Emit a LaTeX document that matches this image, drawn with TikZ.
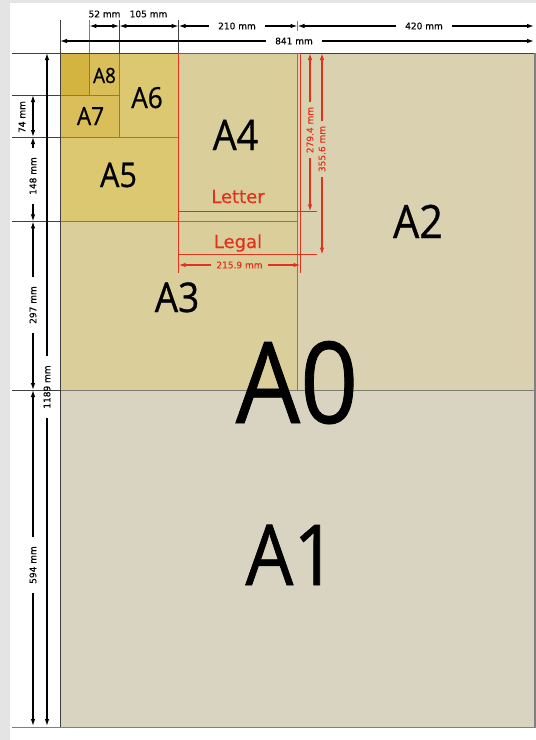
\documentclass[tikz,border=0pt]{standalone}
\usepackage{fontspec}
\setmainfont{DejaVu Sans}
\newfontfamily\bigfont{Open Sans}[FakeStretch=0.9, FakeBold=0.7]
\newfontfamily\dimfont{DejaVu Sans}[FakeBold=0.4]
\usetikzlibrary{arrows.meta}
\definecolor{cBorder}{HTML}{E4E4E4}
\definecolor{cA1}{HTML}{D8D4C1}
\definecolor{cA2}{HTML}{D9D1B0}
\definecolor{cA3}{HTML}{DACE9A}
\definecolor{cA5}{HTML}{DCC870}
\definecolor{cA7}{HTML}{DABE5A}
\definecolor{cA9}{HTML}{D4B440}
\definecolor{cLine}{HTML}{7D7B70}
\definecolor{cRed}{HTML}{E2321E}
\tikzset{
  tip/.tip={Latex[length=7pt,width=4.5pt]},
  sheetline/.style={draw=cLine, line width=0.9pt},
  extline/.style={draw=black!75, line width=0.8pt},
  dimboth/.style={line width=1.2pt, tip-tip},
  dimhalf/.style={line width=1.2pt, -tip},
  redhalf/.style={draw=cRed, line width=1.3pt, -tip},
  redline/.style={draw=cRed, line width=1pt},
  dimlab/.style={font=\dimfont\fontsize{9}{10}\selectfont, inner sep=0pt},
  gaplab/.style={dimlab, inner xsep=9pt, inner ysep=0pt},
  redlab/.style={font=\dimfont\fontsize{9}{10}\selectfont, text=cRed, inner xsep=5pt, inner ysep=0pt},
  sizelab/.style={anchor=base, inner sep=0pt},
}
\begin{document}
\begin{tikzpicture}[x=1pt,y=-1pt]
\useasboundingbox (0,0) rectangle (536,740);
\fill[white] (0,0) rectangle (536,740);
\fill[cBorder] (0,0) rectangle (536,3);
\fill[cBorder] (0,0) rectangle (10,740);

% sheet fills
\fill[cA1] (60,390) rectangle (535,727);
\fill[cA2] (297.5,53) rectangle (535,390);
\fill[cA3] (60,53) rectangle (297.5,390);
\fill[cA5] (60,137) rectangle (178.6,221.4);
\fill[cA5] (119.3,53) rectangle (178.6,137);
\fill[cA7] (60,95) rectangle (119.3,137);
\fill[cA7] (89.4,53) rectangle (119.3,95);
\fill[cA9] (60,53) rectangle (89.4,95);

% sheet dividing lines
\draw[sheetline] (297.5,53) -- (297.5,390);
\draw[sheetline] (60,390) -- (535,390);
\draw[sheetline] (60,221.4) -- (297.5,221.4);
\draw[sheetline] (178.6,53) -- (178.6,221.4);
\draw[sheetline] (60,137) -- (178.6,137);
\draw[sheetline] (119.3,53) -- (119.3,137);
\draw[sheetline] (60,95) -- (119.3,95);
\draw[sheetline] (89.4,53) -- (89.4,95);

% outer frame and extension lines
\draw[extline] (60,20) -- (60,727);
\draw[extline] (12,53) -- (535,53);
\draw[draw=gray, line width=1.5pt] (535,53) -- (535,727.5);
\draw[draw=gray, line width=1.8pt] (12,727.5) -- (536,727.5);
\draw[extline] (12,95) -- (60,95);
\draw[extline] (12,137) -- (60,137);
\draw[extline] (12,221.4) -- (60,221.4);
\draw[extline] (12,390) -- (60,390);
\draw[draw=gray, line width=0.8pt] (89.4,20) -- (89.4,53);
\draw[extline] (119.3,20) -- (119.3,53);
\draw[extline] (178.6,20) -- (178.6,53);
\draw[draw=gray, line width=0.8pt] (297.5,21) -- (297.5,31);

% red Letter / Legal frames
\draw[redline] (178.6,53) -- (300.5,53);
\draw[redline] (178.6,53) -- (178.6,273);
\draw[redline] (300.5,53) -- (300.5,273);
\draw[redline] (178.6,211.4) -- (317,211.4);
\draw[redline] (178.6,254.6) -- (317,254.6);

% coordinates for dimension ends
\coordinate (t60) at (60,41);
\coordinate (t535b) at (534,41);
\coordinate (u89) at (89.4,26);
\coordinate (u119) at (119.3,26);
\coordinate (u178) at (178.6,26);
\coordinate (u297) at (297.5,26);
\coordinate (u535) at (534,26);
\coordinate (v95) at (33,95);
\coordinate (v137) at (33,137);
\coordinate (v221) at (33,221.4);
\coordinate (v390) at (33,390);
\coordinate (v727) at (33,726);
\coordinate (w53) at (47,53);
\coordinate (w727) at (47,726);
\coordinate (r1top) at (310,53);
\coordinate (r1bot) at (310,211.4);
\coordinate (r2top) at (322,53);
\coordinate (r2bot) at (322,254.6);
\coordinate (hl) at (178.6,265);
\coordinate (hr) at (300.5,265);

% top dimensions
\node[dimlab] (l52) at (104.5,14) {52 mm};
\node[dimlab] (l105) at (148.5,14) {105 mm};
\draw[dimboth] (u89) -- (u119);
\draw[dimboth] (u119) -- (u178);
\node[gaplab] (l210) at (237,26) {210 mm};
\draw[dimhalf] (l210.west) -- (u178);
\draw[dimhalf] (l210.east) -- (u297);
\node[gaplab] (l420) at (424,26) {420 mm};
\draw[dimhalf] (l420.west) -- (u297);
\draw[dimhalf] (l420.east) -- (u535);
\node[gaplab] (l841) at (294,41) {841 mm};
\draw[dimhalf] (l841.west) -- (t60);
\draw[dimhalf] (l841.east) -- (t535b);

% left dimensions
\node[dimlab, rotate=90] (l74) at (22,117) {74 mm};
\draw[dimboth] (v95) -- (v137);
\node[gaplab, rotate=90] (l148) at (33,176) {148 mm};
\draw[dimhalf] (l148.east) -- (v137);
\draw[dimhalf] (l148.west) -- (v221);
\node[gaplab, rotate=90] (l297) at (33,305) {297 mm};
\draw[dimhalf] (l297.east) -- (v221);
\draw[dimhalf] (l297.west) -- (v390);
\node[gaplab, rotate=90] (l594) at (33,565) {594 mm};
\draw[dimhalf] (l594.east) -- (v390);
\draw[dimhalf] (l594.west) -- (v727);
\node[gaplab, rotate=90] (l1189) at (47,387) {1189 mm};
\draw[dimhalf] (l1189.east) -- (w53);
\draw[dimhalf] (l1189.west) -- (w727);

% red dimensions
\node[redlab, rotate=90] (l279) at (310,130) {279.4 mm};
\draw[redhalf] (l279.east) -- (r1top);
\draw[redhalf] (l279.west) -- (r1bot);
\node[redlab, rotate=90] (l355) at (322,149) {355.6 mm};
\draw[redhalf] (l355.east) -- (r2top);
\draw[redhalf] (l355.west) -- (r2bot);
\node[redlab] (l215) at (239.5,265) {215.9 mm};
\draw[redhalf] (l215.west) -- (hl);
\draw[redhalf] (l215.east) -- (hr);

% Letter / Legal
\node[sizelab, text=cRed, font=\dimfont\fontsize{18}{18}\selectfont] (letter) at (238,203) {Letter};
\node[sizelab, text=cRed, font=\dimfont\fontsize{18}{18}\selectfont] (legal) at (238,248) {Legal};

% sheet labels
\node[sizelab, font=\bigfont\fontsize{113}{113}\selectfont] (a0) at (297,423) {A0};
\node[sizelab, font=\bigfont\fontsize{84}{84}\selectfont] (a1) at (291,585) {A1};
\node[sizelab, font=\bigfont\fontsize{46}{46}\selectfont] (a2) at (418,238) {A2};
\node[sizelab, font=\bigfont\fontsize{41}{41}\selectfont] (a3) at (177,312) {A3};
\node[sizelab, font=\bigfont\fontsize{42}{42}\selectfont] (a4) at (235.5,150) {A4};
\node[sizelab, font=\bigfont\fontsize{34}{34}\selectfont] (a5) at (118.5,187) {A5};
\node[sizelab, font=\bigfont\fontsize{29}{29}\selectfont] (a6) at (147,108) {A6};
\node[sizelab, font=\bigfont\fontsize{25}{25}\selectfont] (a7) at (90.5,125) {A7};
\node[sizelab, font=\bigfont\fontsize{21}{21}\selectfont] (a8) at (104.5,83) {A8};
\end{tikzpicture}
\end{document}
